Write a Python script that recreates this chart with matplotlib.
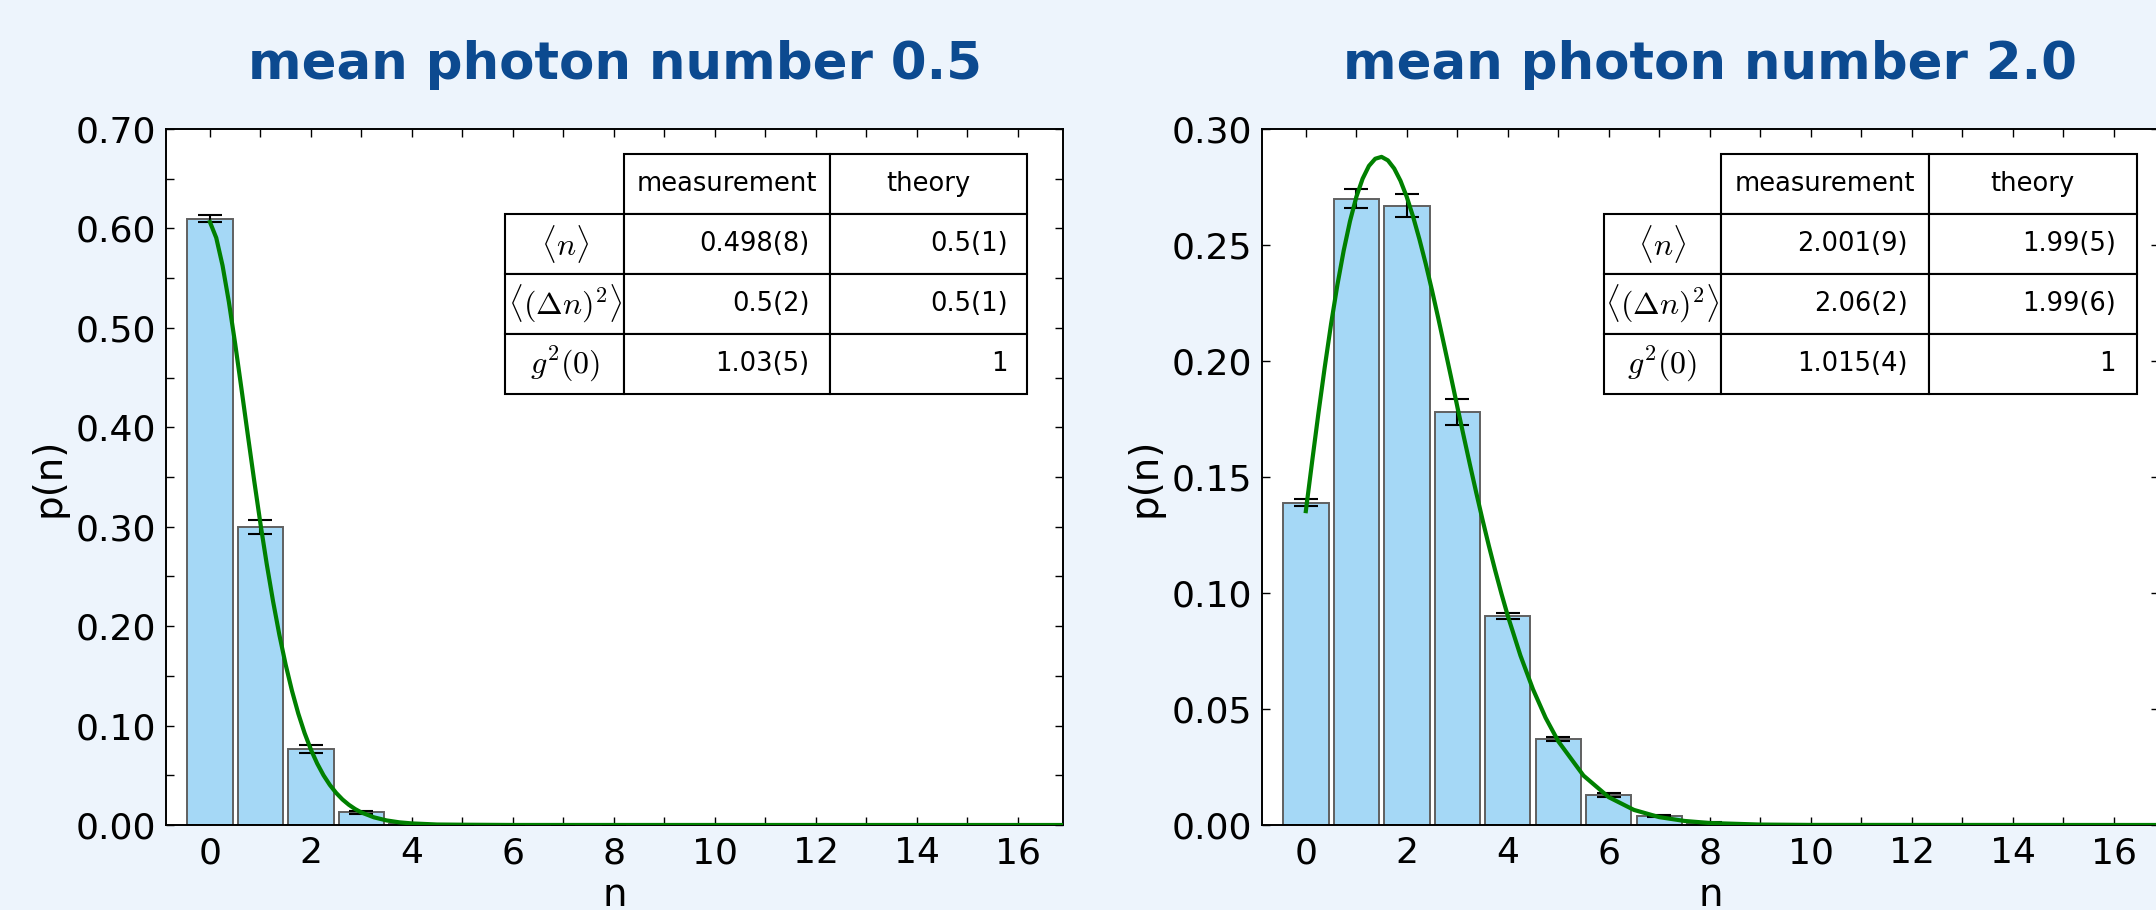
"""
Photon-number distributions for two coherent states, with the
continuous Poisson curve and a small summary table on each panel.
"""
import matplotlib as mpl
import matplotlib.pyplot as plt
from matplotlib.table import Table
from matplotlib.ticker import MultipleLocator, FormatStrFormatter

# ---------------------------------------------------------------- data
n_vals = list(range(17))

p_low = [0.610, 0.300, 0.076, 0.013, 0.001, 0.0002, 0, 0, 0,
         0, 0, 0, 0, 0, 0, 0, 0]
err_low = [0.004, 0.007, 0.004, 0.0015, 0.0004, 0, 0, 0, 0,
           0, 0, 0, 0, 0, 0, 0, 0]

p_high = [0.139, 0.270, 0.267, 0.178, 0.090, 0.037, 0.013, 0.004, 0.001,
          0.0002, 0, 0, 0, 0, 0, 0, 0]
err_high = [0.0015, 0.004, 0.005, 0.0055, 0.0012, 0.0008, 0.0008, 0.0004,
            0.0002, 0, 0, 0, 0, 0, 0, 0, 0]

# theory curves (dense near the peak so it stays smooth)
curve_x_low = [0, 0.125, 0.25, 0.375, 0.5, 0.625, 0.75, 0.875, 1.0,
               1.125, 1.25, 1.375, 1.5, 1.625, 1.75, 1.875, 2.0,
               2.125, 2.25, 2.375, 2.5, 2.625, 2.75, 2.875, 3.0,
               3.25, 3.5, 3.75, 4.0, 4.5, 5.0, 6.0, 17.5]
curve_y_low = [0.6065, 0.5906, 0.5627, 0.5262, 0.4840, 0.4386, 0.3924,
               0.3469, 0.3033, 0.2625, 0.2251, 0.1913, 0.1613, 0.1350,
               0.1121, 0.0925, 0.0758, 0.0618, 0.0500, 0.0403, 0.0323,
               0.0257, 0.0204, 0.0161, 0.0126, 0.0077, 0.0046, 0.0027,
               0.0016, 0.0005, 0.0003, 0.00004, 0.0]

curve_x_high = [0, 0.125, 0.25, 0.375, 0.5, 0.625, 0.75, 0.875, 1.0,
                1.125, 1.25, 1.375, 1.5, 1.625, 1.75, 1.875, 2.0,
                2.125, 2.25, 2.375, 2.5, 2.625, 2.75, 2.875, 3.0,
                3.125, 3.25, 3.375, 3.5, 3.625, 3.75, 3.875, 4.0,
                4.25, 4.5, 4.75, 5.0, 5.5, 6.0, 6.5, 7.0, 7.5, 8.0,
                9.0, 10.0, 17.5]
curve_y_high = [0.1353, 0.1567, 0.1776, 0.1974, 0.2160, 0.2328, 0.2476,
                0.2603, 0.2707, 0.2786, 0.2841, 0.2872, 0.2880, 0.2865,
                0.2830, 0.2777, 0.2707, 0.2622, 0.2525, 0.2419, 0.2304,
                0.2183, 0.2058, 0.1932, 0.1804, 0.1678, 0.1554, 0.1433,
                0.1316, 0.1204, 0.1098, 0.0997, 0.0902, 0.0731, 0.0585,
                0.0462, 0.0361, 0.0213, 0.0120, 0.0065, 0.0034, 0.00175,
                0.00086, 0.00019, 0.00004, 0.0]

row_labels = [r"$\langle n\rangle$", r"$\langle(\Delta n)^2\rangle$",
              r"$g^2(0)$"]
col_labels = ["measurement", "theory"]
table_low = [["0.498(8)", "0.5(1)"], ["0.5(2)", "0.5(1)"],
             ["1.03(5)", "1"]]
table_high = [["2.001(9)", "1.99(5)"], ["2.06(2)", "1.99(6)"],
              ["1.015(4)", "1"]]

titles = ["mean photon number 0.5", "mean photon number 2.0"]

# ---------------------------------------------------------------- style
BG = "#edf4fc"
BAR = "#a5d8f6"
TITLE = "#0c4a90"

mpl.rcParams.update({
    "font.family": "DejaVu Sans",
    "mathtext.fontset": "cm",
    "xtick.direction": "in",
    "ytick.direction": "in",
    "xtick.top": True,
    "ytick.right": True,
    "xtick.major.size": 6,
    "xtick.minor.size": 6,
    "ytick.major.size": 6,
    "ytick.minor.size": 6,
    "xtick.major.width": 1.0,
    "xtick.minor.width": 1.0,
    "ytick.major.width": 1.0,
    "ytick.minor.width": 1.0,
    "xtick.major.pad": 8,
    "ytick.major.pad": 7,
    "xtick.labelsize": 26,
    "ytick.labelsize": 26,
    "axes.linewidth": 1.4,
})

fig = plt.figure(figsize=(21.56, 9.10), dpi=100, facecolor=BG)
ax_l = fig.add_axes([0.0770, 0.0934, 0.4161, 0.7648])
ax_r = fig.add_axes([0.5853, 0.0934, 0.4161, 0.7648])


def add_table(ax, tab, bbox, widths):
    tbl = Table(ax, bbox=bbox)
    tbl.set_zorder(6)
    h = 1.0
    for j, lab in enumerate(col_labels):
        tbl.add_cell(0, j + 1, widths[j + 1], h, text=lab, loc="center")
    for i, row in enumerate(tab):
        tbl.add_cell(i + 1, 0, widths[0], h, text=row_labels[i],
                     loc="center")
        for j, val in enumerate(row):
            tbl.add_cell(i + 1, j + 1, widths[j + 1], h, text=val,
                         loc="right")
    tbl.auto_set_font_size(False)
    tbl.set_fontsize(18.5)
    for (r, c), cell in tbl.get_celld().items():
        cell.set_linewidth(1.5)
        cell.set_edgecolor("k")
        cell.set_facecolor("white")
        if c == 0 and r > 0:
            cell.get_text().set_fontsize(23)
    ax.add_table(tbl)


def panel(ax, p, err, cx, cy, tab, title, ymax, ymajor, yminor,
          bbox, widths):
    ax.bar(n_vals, p, width=0.9, color=BAR, edgecolor="#606060",
           linewidth=1.4, zorder=2)
    ax.errorbar(n_vals[:9], p[:9], yerr=err[:9], fmt="none", ecolor="k",
                elinewidth=1.5, capsize=8.5, capthick=1.5, zorder=3)
    ax.plot(cx, cy, color="#008000", lw=3.0, zorder=4,
            solid_joinstyle="round")

    ax.set_xlim(-0.87, 16.9)
    ax.set_ylim(0, ymax)
    ax.xaxis.set_major_locator(MultipleLocator(2))
    ax.xaxis.set_minor_locator(MultipleLocator(1))
    ax.yaxis.set_major_locator(MultipleLocator(ymajor))
    if yminor:
        ax.yaxis.set_minor_locator(MultipleLocator(yminor))
    ax.yaxis.set_major_formatter(FormatStrFormatter("%.2f"))
    ax.set_xlabel("n", fontsize=28, labelpad=4)
    ax.set_ylabel("p(n)", fontsize=28, labelpad=6)
    ax.set_title(title, fontsize=37, fontweight="bold", color=TITLE,
                 pad=36)
    add_table(ax, tab, bbox, widths)


panel(ax_l, p_low, err_low, curve_x_low, curve_y_low, table_low, titles[0],
      0.70, 0.10, 0.05, [0.378, 0.619, 0.582, 0.345], [119, 206, 197])
panel(ax_r, p_high, err_high, curve_x_high, curve_y_high, table_high,
      titles[1], 0.30, 0.05, None, [0.381, 0.619, 0.594, 0.345],
      [117, 208, 208])

fig.savefig("out.png", dpi=100, facecolor=BG)
